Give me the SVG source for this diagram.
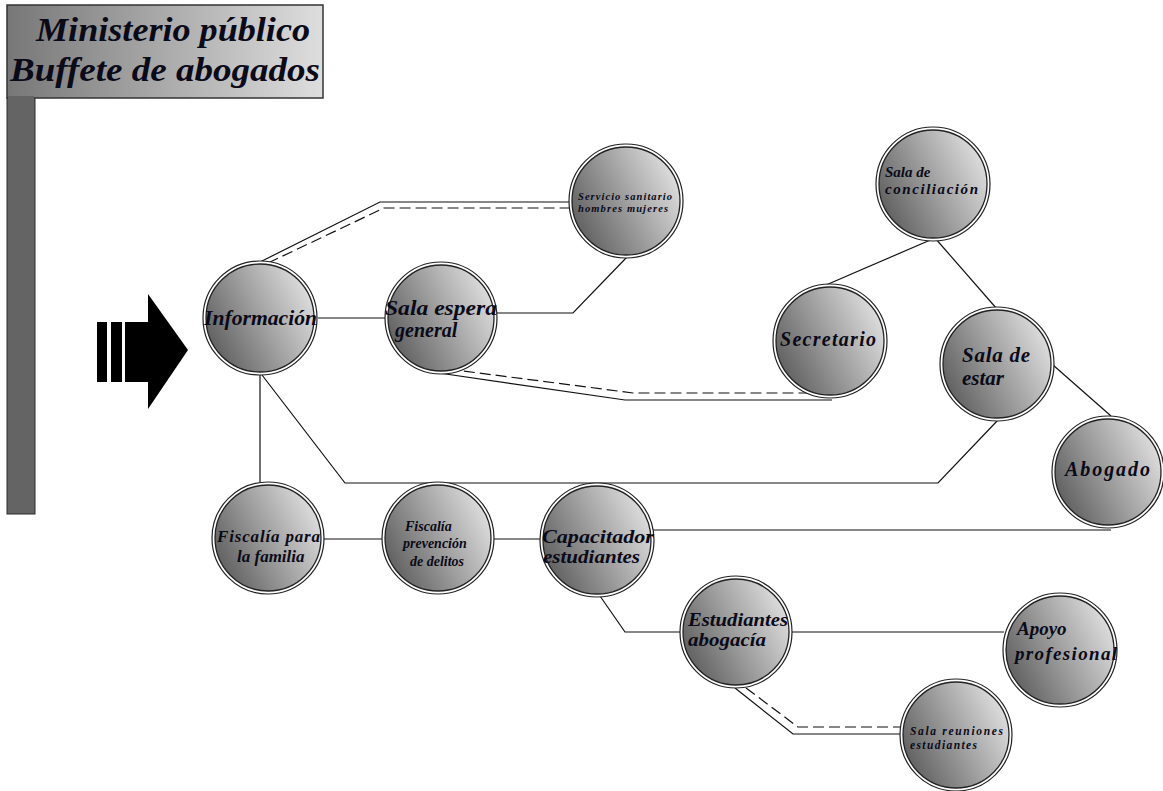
<svg xmlns="http://www.w3.org/2000/svg" width="1163" height="791" viewBox="0 0 1163 791">
<style>
.ln{fill:none;stroke:#111;stroke-width:1.2}
.ds{fill:none;stroke:#111;stroke-width:1.2;stroke-dasharray:11,5}
.o{fill:#fff;stroke:#222;stroke-width:1.2}
.i{fill:url(#cg);stroke:#222;stroke-width:1.3}
.t{font-family:"Liberation Serif","Times New Roman",serif;font-style:italic;font-weight:bold;fill:#0a0a18}
</style>
<defs>
<linearGradient id="cg" x1="0" y1="0.75" x2="1" y2="0.25">
<stop offset="0" stop-color="#5c5c5c"/>
<stop offset="1" stop-color="#e2e2e2"/>
</linearGradient>
<linearGradient id="tg" x1="0" y1="0" x2="1" y2="0">
<stop offset="0" stop-color="#777"/>
<stop offset="1" stop-color="#dedede"/>
</linearGradient>
</defs>
<rect width="1163" height="791" fill="#fff"/>
<g id="title">
<rect x="7" y="98" width="28" height="416" fill="#646464" stroke="#2a2a2a" stroke-width="1"/>
<rect x="7" y="5" width="316" height="93" fill="url(#tg)" stroke="#333" stroke-width="1.5"/>
<rect x="8" y="96" width="26" height="6" fill="#646464"/>
<text class="t" x="36" y="41" font-size="34" textLength="274" lengthAdjust="spacingAndGlyphs">Ministerio público</text>
<text class="t" x="10" y="81" font-size="34" textLength="310" lengthAdjust="spacingAndGlyphs">Buffete de abogados</text>
</g>
<g id="arrow" fill="#000">
<rect x="97" y="322" width="10" height="60"/>
<rect x="111" y="322" width="11" height="60"/>
<rect x="125" y="322" width="24" height="60"/>
<polygon points="148,294 188,350 148,409"/>
</g>
<g id="connectors">
<polyline class="ln" points="260,262 380,202 572,202"/>
<polyline class="ds" points="268,263 384,208 572,208"/>
<line class="ln" x1="318" y1="318" x2="386" y2="318"/>
<polyline class="ln" points="496,313 573,313 627,257"/>
<polyline class="ln" points="432,372 625,400 832,400"/>
<polyline class="ds" points="448,369 633,393 810,393"/>
<line class="ln" x1="935" y1="238" x2="826" y2="285"/>
<line class="ln" x1="935" y1="238" x2="997" y2="309"/>
<line class="ln" x1="1053" y1="365" x2="1111" y2="416"/>
<polyline class="ln" points="262,375 345,483 938,483 998,420"/>
<line class="ln" x1="260" y1="375" x2="260" y2="484"/>
<line class="ln" x1="322" y1="539" x2="383" y2="539"/>
<line class="ln" x1="494" y1="539" x2="541" y2="539"/>
<line class="ln" x1="652" y1="530" x2="1111" y2="530"/>
<polyline class="ln" points="600,596 625,632 681,632"/>
<line class="ln" x1="791" y1="632" x2="1004" y2="632"/>
<polyline class="ln" points="735,688 793,734 902,734"/>
<polyline class="ds" points="746,688 798,727 902,727"/>
</g>
<g id="n-informacion"><circle class="o" cx="260" cy="318" r="57"/><circle class="i" cx="260" cy="318" r="54"/>
<text class="t" x="204" y="325" font-size="21" textLength="113" lengthAdjust="spacingAndGlyphs">Información</text></g>
<g id="n-sala-espera"><circle class="o" cx="441" cy="318" r="56"/><circle class="i" cx="441" cy="318" r="53"/>
<text class="t" x="385" y="315" font-size="20" textLength="112" lengthAdjust="spacingAndGlyphs">Sala espera</text>
<text class="t" x="395" y="337" font-size="20">general</text></g>
<g id="n-servicio"><circle class="o" cx="626" cy="201" r="57"/><circle class="i" cx="626" cy="201" r="54"/>
<text class="t" x="578" y="200" font-size="10.5" font-weight="normal" textLength="94" lengthAdjust="spacing">Servicio sanitario</text>
<text class="t" x="578" y="212" font-size="10.5" font-weight="normal" textLength="90" lengthAdjust="spacing">hombres mujeres</text></g>
<g id="n-conciliacion"><circle class="o" cx="933" cy="184" r="57"/><circle class="i" cx="933" cy="184" r="54"/>
<text class="t" x="885" y="177" font-size="15" font-weight="normal">Sala de</text>
<text class="t" x="885" y="194" font-size="15" font-weight="normal" textLength="93" lengthAdjust="spacing">conciliación</text></g>
<g id="n-secretario"><circle class="o" cx="830" cy="341" r="57"/><circle class="i" cx="830" cy="341" r="54"/>
<text class="t" x="780" y="346" font-size="20" textLength="96" lengthAdjust="spacing">Secretario</text></g>
<g id="n-sala-estar"><circle class="o" cx="997" cy="364" r="57"/><circle class="i" cx="997" cy="364" r="54"/>
<text class="t" x="962" y="362" font-size="21" textLength="68" lengthAdjust="spacing">Sala de</text>
<text class="t" x="962" y="385" font-size="21">estar</text></g>
<g id="n-abogado"><circle class="o" cx="1108" cy="472" r="56"/><circle class="i" cx="1108" cy="472" r="53"/>
<text class="t" x="1065" y="476" font-size="20" textLength="85" lengthAdjust="spacing">Abogado</text></g>
<g id="n-fiscalia-familia"><circle class="o" cx="268" cy="538" r="56"/><circle class="i" cx="268" cy="538" r="53"/>
<text class="t" x="217" y="542" font-size="17" textLength="103" lengthAdjust="spacing">Fiscalía para</text>
<text class="t" x="237" y="562" font-size="17">la familia</text></g>
<g id="n-fiscalia-prevencion"><circle class="o" cx="438" cy="538" r="56"/><circle class="i" cx="438" cy="538" r="53"/>
<text class="t" x="405" y="531" font-size="14">Fiscalía</text>
<text class="t" x="403" y="548" font-size="14">prevención</text>
<text class="t" x="410" y="566" font-size="14">de delitos</text></g>
<g id="n-capacitador"><circle class="o" cx="597" cy="540" r="57"/><circle class="i" cx="597" cy="540" r="54"/>
<text class="t" x="542" y="543" font-size="18" textLength="112" lengthAdjust="spacingAndGlyphs">Capacitador</text>
<text class="t" x="543" y="563" font-size="18" textLength="97" lengthAdjust="spacingAndGlyphs">estudiantes</text></g>
<g id="n-estudiantes"><circle class="o" cx="736" cy="632" r="56"/><circle class="i" cx="736" cy="632" r="53"/>
<text class="t" x="688" y="626" font-size="18" textLength="100" lengthAdjust="spacingAndGlyphs">Estudiantes</text>
<text class="t" x="688" y="646" font-size="18" textLength="78" lengthAdjust="spacingAndGlyphs">abogacía</text></g>
<g id="n-apoyo"><circle class="o" cx="1060" cy="650" r="57"/><circle class="i" cx="1060" cy="650" r="54"/>
<text class="t" x="1017" y="635" font-size="19">Apoyo</text>
<text class="t" x="1015" y="660" font-size="19" textLength="102" lengthAdjust="spacing">profesional</text></g>
<g id="n-sala-reuniones"><circle class="o" cx="956" cy="735" r="56"/><circle class="i" cx="956" cy="735" r="53"/>
<text class="t" x="910" y="735" font-size="11.5" font-weight="normal" textLength="93" lengthAdjust="spacing">Sala reuniones</text>
<text class="t" x="910" y="749" font-size="11.5" font-weight="normal" textLength="67" lengthAdjust="spacing">estudiantes</text></g>
</svg>
